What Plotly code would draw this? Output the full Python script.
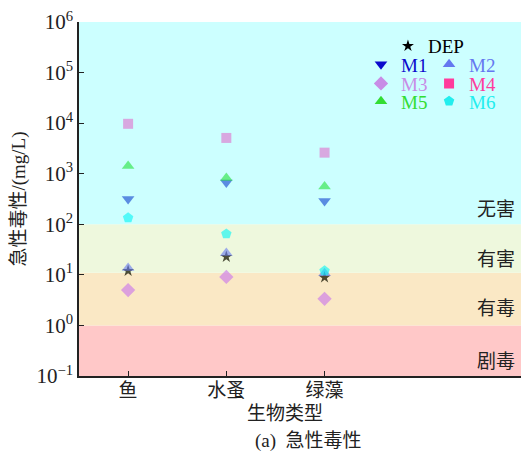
import plotly.graph_objects as go

# ---------------- data ----------------
categories = ["鱼", "水蚤", "绿藻"]
cat_pos = [1, 2, 3]

dep = [12.0, 22.7, 8.9]
m1 = [318, 667, 290]
m2 = [13.7, 27.2, 10.8]
m3 = [5.0, 9.1, 3.36]
m4 = [9700, 5100, 2610]
m5 = [1425, 826, 556]
m6 = [134, 64.5, 12.0]

band_edges = [0.1, 1, 11, 100, 1e6]
band_labels = ["剧毒", "有毒", "有害", "无害"]

ytick_vals = [0.1, 1, 10, 100, 1e3, 1e4, 1e5, 1e6]
ytick_text = ["10<sup>−1</sup>", "10<sup>0</sup>", "10<sup>1</sup>", "10<sup>2</sup>",
              "10<sup>3</sup>", "10<sup>4</sup>", "10<sup>5</sup>", "10<sup>6</sup>"]

# ---------------- styles ----------------
SERIF = "Liberation Serif, Times New Roman, Noto Sans CJK SC"
CJK = "Liberation Serif, Noto Sans CJK SC"
band_colors = ["#FFC8C8", "#FAE8C5", "#EEF8DD", "#CCFFFF"]

series = [
    # name, values, symbol, legend color, plot color, size
    ("DEP", dep, "star", "#000000", "rgba(20,20,0,0.75)", 9),
    ("M1", m1, "triangle-down", "#0A0ACC", "rgba(14,63,205,0.6)", 11),
    ("M2", m2, "triangle-up", "#6478F0", "rgba(100,120,240,0.6)", 11),
    ("M3", m3, "diamond", "#C88CE6", "rgba(200,112,236,0.6)", 11),
    ("M4", m4, "square", "#FF3C9C", "rgba(224,110,203,0.6)", 10),
    ("M5", m5, "triangle-up", "#33DD33", "rgba(34,227,57,0.6)", 11),
    ("M6", m6, "pentagon", "#22EEEE", "rgba(0,245,245,0.6)", 11),
]

# legend positions (paper coords of legend box left / middle)
legend_pos = {
    "DEP": (0.699, 0.932),
    "M1": (0.638, 0.880),
    "M2": (0.792, 0.880),
    "M3": (0.638, 0.826),
    "M4": (0.792, 0.826),
    "M5": (0.638, 0.776),
    "M6": (0.792, 0.776),
}

fig = go.Figure()

# plotted markers
for name, vals, sym, lcol, pcol, size in series:
    fig.add_trace(go.Scatter(
        x=cat_pos, y=vals, mode="markers", name=name, showlegend=False,
        marker=dict(symbol=sym, size=size, color=pcol, line=dict(width=0)),
    ))

# legend-only entries (opaque colours as in the legend)
layout_legends = {}
for i, (name, vals, sym, lcol, pcol, size) in enumerate(series):
    key = "legend" if i == 0 else f"legend{i+1}"
    fig.add_trace(go.Scatter(
        x=[None], y=[None], mode="markers",
        name=f'<span style="color:{lcol}">{name}</span>',
        legend=key, showlegend=True,
        marker=dict(symbol=sym, size=size, color=lcol, line=dict(width=0)),
    ))
    lx, ly = legend_pos[name]
    layout_legends[key] = dict(
        x=lx, y=ly, xanchor="left", yanchor="middle",
        bgcolor="rgba(0,0,0,0)", borderwidth=0,
        font=dict(family=SERIF, size=19, color=lcol),
    )

# toxicity bands
for (y0, y1), col in zip(zip(band_edges[:-1], band_edges[1:]), band_colors):
    fig.add_shape(type="rect", xref="paper", yref="y", x0=0, x1=1, y0=y0, y1=y1,
                  fillcolor=col, line=dict(width=0), layer="below")

# band labels
label_y = [0.04, 0.19, 0.33, 0.47]
annotations = []
for txt, yy in zip(band_labels, label_y):
    annotations.append(dict(text=txt, xref="paper", yref="paper", x=0.99, y=yy,
                            xanchor="right", yanchor="middle", showarrow=False,
                            font=dict(family=CJK, size=19, color="#222222")))

annotations.append(dict(text="生物类型", xref="paper", yref="paper", x=0.465, y=-0.105,
                        xanchor="center", yanchor="middle", showarrow=False,
                        font=dict(family=CJK, size=19, color="#222222")))
annotations.append(dict(text="(a)  急性毒性", xref="paper", yref="paper", x=0.52, y=-0.183,
                        xanchor="center", yanchor="middle", showarrow=False,
                        font=dict(family=CJK, size=19, color="#222222")))

fig.update_layout(
    width=523, height=460,
    margin=dict(l=79, r=2, t=22, b=84),
    paper_bgcolor="white", plot_bgcolor="white",
    annotations=annotations,
    **layout_legends,
)

fig.update_xaxes(
    range=[0.5, 5], tickvals=cat_pos, ticktext=categories,
    ticks="inside", ticklen=5, tickcolor="#222", tickwidth=1,
    showline=True, linecolor="#222", linewidth=1.5, mirror=False,
    showgrid=False, zeroline=False, ticklabelstandoff=-4,
    tickfont=dict(family=CJK, size=19, color="#222222"),
)
fig.update_yaxes(
    type="log", range=[-1, 6], tickvals=ytick_vals, ticktext=ytick_text,
    ticks="inside", ticklen=5, tickcolor="#222", tickwidth=1,
    showline=True, linecolor="#222", linewidth=1.5, mirror=False,
    showgrid=False, zeroline=False,
    tickfont=dict(family=SERIF, size=21, color="#222222"),
    title=dict(text="急性毒性/(mg/L)", standoff=6,
               font=dict(family=CJK, size=19, color="#222222")),
)

fig.write_html("out.html", config={"displayModeBar": False},
               post_script="document.body.style.margin='0';")
